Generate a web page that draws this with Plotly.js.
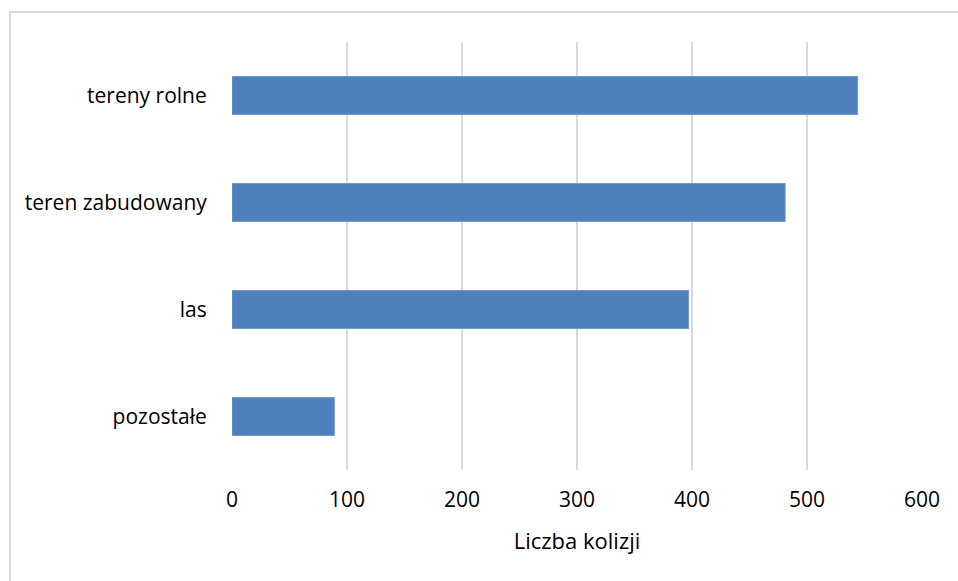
<!DOCTYPE html>
<html>
<head>
<meta charset="utf-8">
<script src="https://cdn.plot.ly/plotly-3.0.1.min.js"></script>
<style>
  html, body { margin: 0; padding: 0; background: #fff; }
  #wrap { position: relative; width: 958px; height: 581px; overflow: hidden; }
  #chart { position: absolute; left: 0; top: 0; width: 958px; height: 581px; }
  #frame { position: absolute; left: 9px; top: 11px; width: 1000px; height: 1000px;
           border-left: 2px solid #d9d9d9; border-top: 2px solid #d9d9d9; pointer-events: none; }
</style>
</head>
<body>
<div id="wrap">
  <div id="chart"></div>
  <div id="frame"></div>
</div>
<script>
// Liczba kolizji według rodzaju terenu
const categories = ['tereny rolne', 'teren zabudowany', 'las', 'pozostałe'];
const collisions = [544, 481, 397, 89];
const xTicks = [0, 100, 200, 300, 400, 500, 600];
const xTitle = 'Liczba kolizji';

const fontFamily = '"Open Sans", Lato, sans-serif';
const fontSize = 21;

const trace = {
  type: 'bar',
  orientation: 'h',
  y: categories,
  x: collisions,
  marker: { color: '#4f81bd', line: { color: '#6f97cb', width: 1 } },
  hoverinfo: 'x+y'
};

const layout = {
  width: 958,
  height: 581,
  margin: { l: 232, r: 36, t: 42, b: 111 },
  paper_bgcolor: '#ffffff',
  plot_bgcolor: '#ffffff',
  bargap: 0.645,
  showlegend: false,
  font: { family: fontFamily, size: fontSize, color: '#000000' },
  xaxis: {
    range: [0, 600],
    tickvals: xTicks,
    ticktext: xTicks.map(String),
    showgrid: true,
    gridcolor: '#d9d9d9',
    gridwidth: 2,
    zeroline: false,
    showline: false,
    ticks: 'outside',
    ticklen: 11,
    tickcolor: 'rgba(0,0,0,0)',
    tickfont: { family: fontFamily, size: fontSize, color: '#000' },
    title: { text: xTitle, font: { family: fontFamily, size: 22, color: '#000' }, standoff: 21 },
    fixedrange: true
  },
  yaxis: {
    autorange: 'reversed',
    showgrid: false,
    zeroline: false,
    showline: false,
    ticks: 'outside',
    ticklen: 20,
    tickcolor: 'rgba(0,0,0,0)',
    tickfont: { family: fontFamily, size: fontSize, color: '#000' },
    fixedrange: true
  }
};

Plotly.newPlot('chart', [trace], layout, { displayModeBar: false, staticPlot: true });
</script>
</body>
</html>
